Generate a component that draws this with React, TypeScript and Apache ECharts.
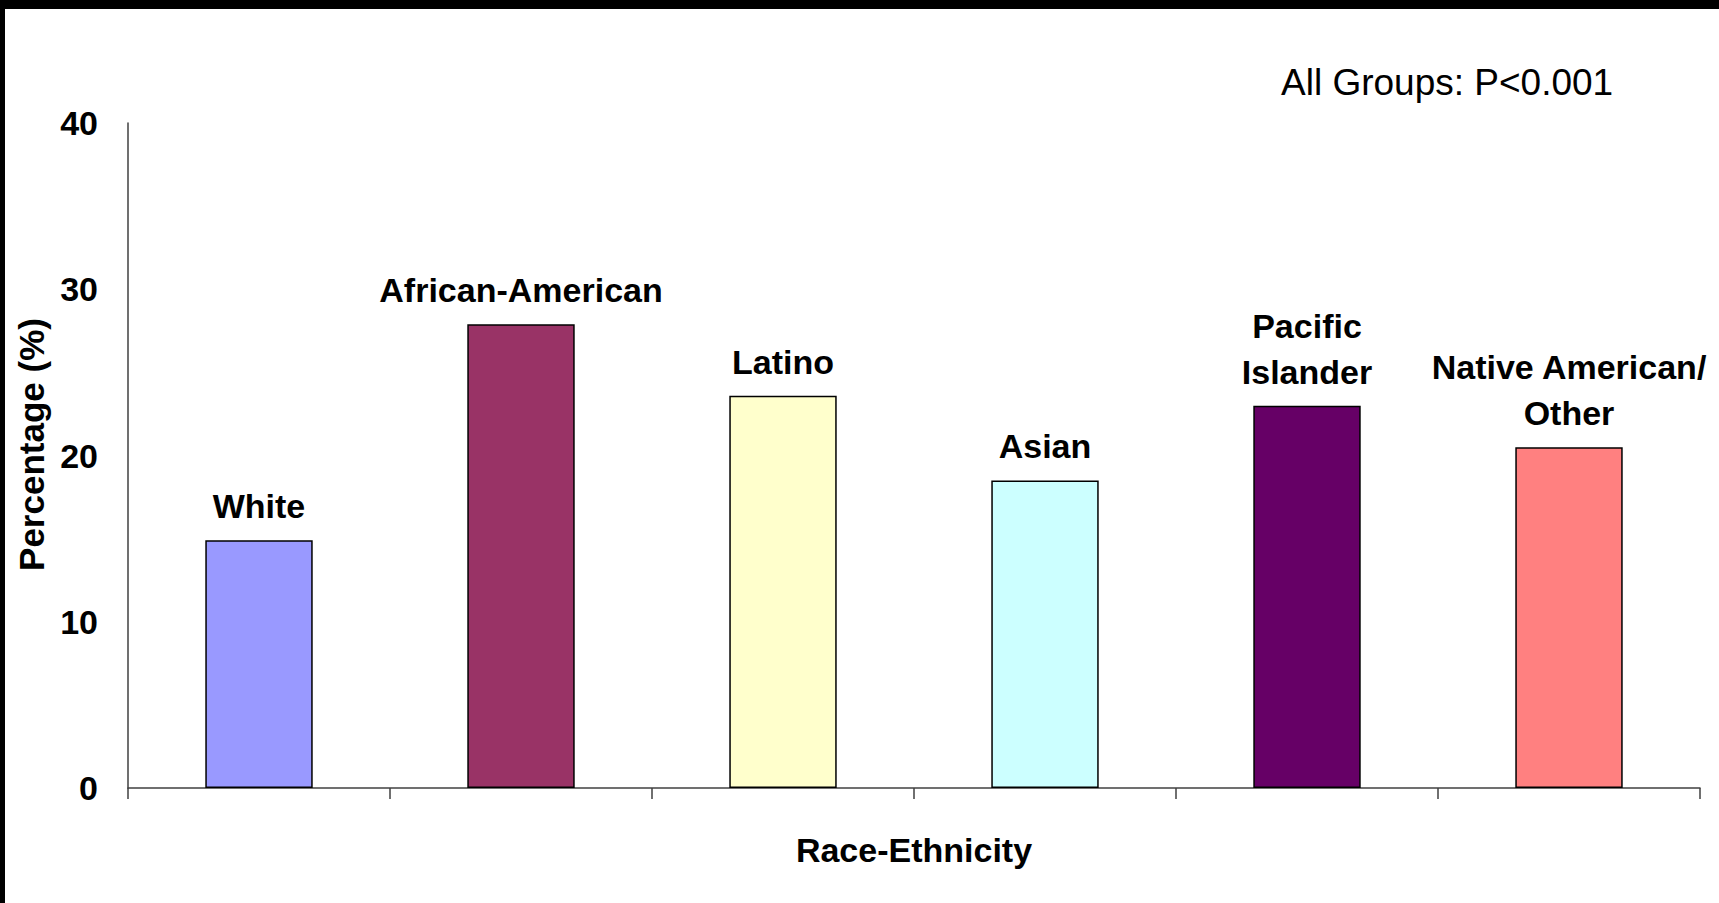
import React, { useEffect, useRef } from "react";
import * as echarts from "echarts";

const categories = ["White", "African-American", "Latino", "Asian", "Pacific\nIslander", "Native American/\nOther"];
const values = [14.9, 27.9, 23.6, 18.5, 23.0, 20.5];
const barColors = ["#9999FF", "#993366", "#FFFFCC", "#CCFFFF", "#660066", "#FF8080"];
const yTicks = [0, 10, 20, 30, 40];
const titleText = "All Groups: P<0.001";
const xName = "Race-Ethnicity";
const yName = "Percentage (%)";

const FONT = "Arial, 'Liberation Sans', sans-serif";

export default function App() {
  const ref = useRef<HTMLDivElement>(null);
  useEffect(() => {
    document.body.style.margin = "0";
    if (!ref.current) return;
    const chart = echarts.init(ref.current, null, { renderer: "svg" });
    chart.setOption({
      animation: false,
      backgroundColor: "#ffffff",
      textStyle: { fontFamily: FONT },
      title: {
        text: titleText,
        left: 1281,
        top: 64,
        padding: 0,
        textStyle: { fontFamily: FONT, fontSize: 37, fontWeight: "normal", color: "#000" },
      },
      graphic: [
        { type: "rect", shape: { x: 0, y: 0, width: 1719, height: 9 }, style: { fill: "#000" }, silent: true },
        { type: "rect", shape: { x: 0, y: 0, width: 5, height: 903 }, style: { fill: "#000" }, silent: true },
      ],
      grid: { left: 128, right: 19, top: 123, bottom: 115, containLabel: false },
      xAxis: {
        type: "category",
        data: categories,
        boundaryGap: true,
        name: xName,
        nameLocation: "middle",
        nameGap: 45,
        nameTextStyle: { fontFamily: FONT, fontSize: 34, fontWeight: "bold", color: "#000" },
        axisLine: { show: true, lineStyle: { color: "#404040", width: 1.5 } },
        axisTick: { show: true, length: 11, lineStyle: { color: "#404040", width: 1.5 } },
        axisLabel: { show: false },
        splitLine: { show: false },
      },
      yAxis: {
        type: "value",
        min: yTicks[0],
        max: yTicks[yTicks.length - 1],
        interval: 10,
        name: yName,
        nameLocation: "middle",
        nameGap: 73,
        nameTextStyle: { fontFamily: FONT, fontSize: 35, fontWeight: "bold", color: "#000", padding: [0, 0, 0, 22] },
        axisLine: { show: true, lineStyle: { color: "#404040", width: 1.5 } },
        axisTick: { show: false },
        axisLabel: { margin: 30, fontFamily: FONT, fontSize: 34, fontWeight: "bold", color: "#000" },
        splitLine: { show: false },
      },
      series: [
        {
          type: "bar",
          barWidth: "41%",
          data: values.map((v, i) => ({ value: v, itemStyle: { color: barColors[i] } })),
          itemStyle: { borderColor: "#000", borderWidth: 1.5 },
          label: {
            show: true,
            position: "top",
            distance: 11,
            formatter: (p: any) => categories[p.dataIndex],
            fontFamily: FONT,
            fontSize: 34,
            fontWeight: "bold",
            color: "#000",
            lineHeight: 46,
            align: "center",
          },
        },
      ],
    });
    return () => chart.dispose();
  }, []);
  return (
    <div
      ref={ref}
      style={{ position: "absolute", left: 0, top: 0, width: 1719, height: 903, background: "#fff" }}
    />
  );
}
